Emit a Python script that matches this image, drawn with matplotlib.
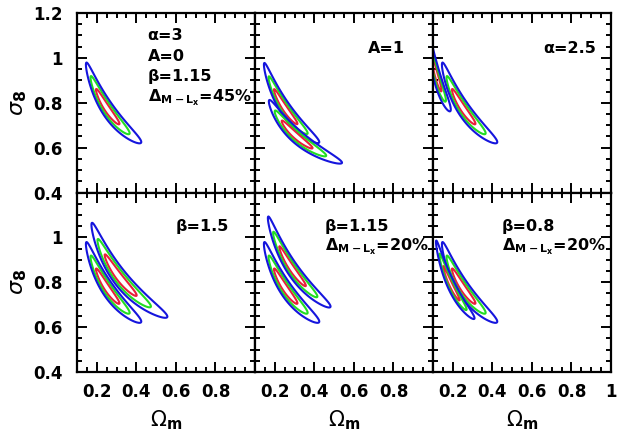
import numpy as np
import matplotlib
matplotlib.use("Agg")
import matplotlib.pyplot as plt

plt.rcParams['font.family'] = ['DejaVu Sans']
plt.rcParams['font.weight'] = 'bold'
plt.rcParams['mathtext.fontset'] = 'dejavusans'
plt.rcParams['mathtext.default'] = 'bf'

# ---------------- data ----------------
# each "banana" likelihood: blue (3-sigma) tips in (Omega_m, sigma_8) and a width
banana_panel = [0, 1, 1, 2, 2, 3, 3, 4, 4, 5, 5]
om_tip_lo = [0.145, 0.145, 0.170, 0.145, 0.0696, 0.145, 0.173, 0.145, 0.165, 0.145, 0.115]
s8_tip_lo = [0.970, 0.970, 0.806, 0.970, 1.120, 0.970, 1.056, 0.970, 1.086, 0.970, 0.980]
om_tip_hi = [0.425, 0.425, 0.540, 0.425, 0.190, 0.425, 0.557, 0.425, 0.482, 0.425, 0.310]
s8_tip_hi = [0.625, 0.625, 0.533, 0.625, 0.770, 0.625, 0.647, 0.625, 0.692, 0.625, 0.640]
log_width = [0.019, 0.017, 0.017, 0.019, 0.019, 0.019, 0.019, 0.019, 0.016, 0.019, 0.015]

chi2_levels = [2.30, 6.17, 11.8]
level_colors = ['#e8203c', '#22dd22', '#1515dd']

panel_text = [
    ["α=3", "A=0", "β=1.15", r"Δ$_{M-L_x}$=45%"],
    ["A=1"],
    ["α=2.5"],
    ["β=1.5"],
    ["β=1.15", r"Δ$_{M-L_x}$=20%"],
    ["β=0.8", r"Δ$_{M-L_x}$=20%"],
]

x_ticks = [0.2, 0.4, 0.6, 0.8, 1.0]
x_ticklabels = ['0.2', '0.4', '0.6', '0.8', '1']
y_ticks = [0.4, 0.6, 0.8, 1.0, 1.2]
y_ticklabels = ['0.4', '0.6', '0.8', '1', '1.2']

xlim = (0.1, 1.0)
ylim = (0.4, 1.2)

# ---------------- layout ----------------
W, H = 618, 437
fig = plt.figure(figsize=(W / 100, H / 100), dpi=100)
left_px, top_px = 77, 13
pw, ph = 178, 179.5

# text positions (axes fraction) and alignment per panel
text_pos = [
    (0.397, [0.848, 0.734, 0.622, 0.505], 'left'),
    (0.844, [0.777], 'right'),
    (0.916, [0.777], 'right'),
    (0.855, [0.783], 'right'),
    (0.391, [0.783, 0.675], 'left'),
    (0.385, [0.783, 0.675], 'left'),
]

om = np.linspace(0.05, 1.05, 500)
s8 = np.linspace(0.35, 1.25, 500)
OM, S8 = np.meshgrid(om, s8)

axes = []
for k in range(6):
    r, c = divmod(k, 3)
    x0 = (left_px + c * pw) / W
    y0 = 1 - (top_px + (r + 1) * ph) / H
    ax = fig.add_axes([x0, y0, pw / W, ph / H])
    axes.append(ax)
    ax.set_xlim(*xlim)
    ax.set_ylim(*ylim)
    ax.set_xticks(x_ticks)
    ax.set_yticks(y_ticks)
    ax.set_xticks(np.arange(0.1, 1.0001, 0.05), minor=True)
    ax.set_yticks(np.arange(0.4, 1.2001, 0.05), minor=True)
    if r == 1:
        labs = list(x_ticklabels)
        if c < 2:
            labs[-1] = ''
        ax.set_xticklabels(labs)
        ax.set_xlabel("Ω$_m$", fontsize=15, labelpad=5)
    else:
        ax.set_xticklabels([''] * len(x_ticks))
    if c == 0:
        labs = list(y_ticklabels)
        if r == 1:
            labs[-1] = ''
        ax.set_yticklabels(labs)
        ax.set_ylabel("σ$_8$", fontsize=16, labelpad=3, fontstyle='italic')
    else:
        ax.set_yticklabels([''] * len(y_ticks))
    ax.tick_params(which='both', direction='in', top=True, right=True,
                   labelsize=12, width=1.4)
    ax.tick_params(axis='y', pad=10)
    ax.tick_params(axis='x', pad=8)
    ax.tick_params(which='major', length=7)
    ax.tick_params(which='minor', length=3.5)
    for sp in ax.spines.values():
        sp.set_linewidth(1.6)

# draw the likelihood contours
for i, p in enumerate(banana_panel):
    ax = axes[p]
    l1, l2 = np.log(om_tip_lo[i]), np.log(om_tip_hi[i])
    gam = np.log(s8_tip_lo[i] / s8_tip_hi[i]) / (l2 - l1)
    v0 = 0.5 * (l1 + l2)
    sv = 0.5 * (l2 - l1) / np.sqrt(chi2_levels[-1])
    u0 = np.log(s8_tip_lo[i]) + gam * l1
    U = np.log(S8) + gam * np.log(OM)
    V = np.log(OM)
    chi2 = ((U - u0) / log_width[i]) ** 2 + ((V - v0) / sv) ** 2
    ax.contour(OM, S8, chi2, levels=chi2_levels, colors=level_colors,
               linewidths=1.5)

# panel annotations
for k, ax in enumerate(axes):
    xf, yfs, ha = text_pos[k]
    for t, yf in zip(panel_text[k], yfs):
        ax.text(xf, yf, t, transform=ax.transAxes, ha=ha, va='baseline',
                fontsize=11.5, fontweight='bold')

fig.savefig("out.png", dpi=100)
